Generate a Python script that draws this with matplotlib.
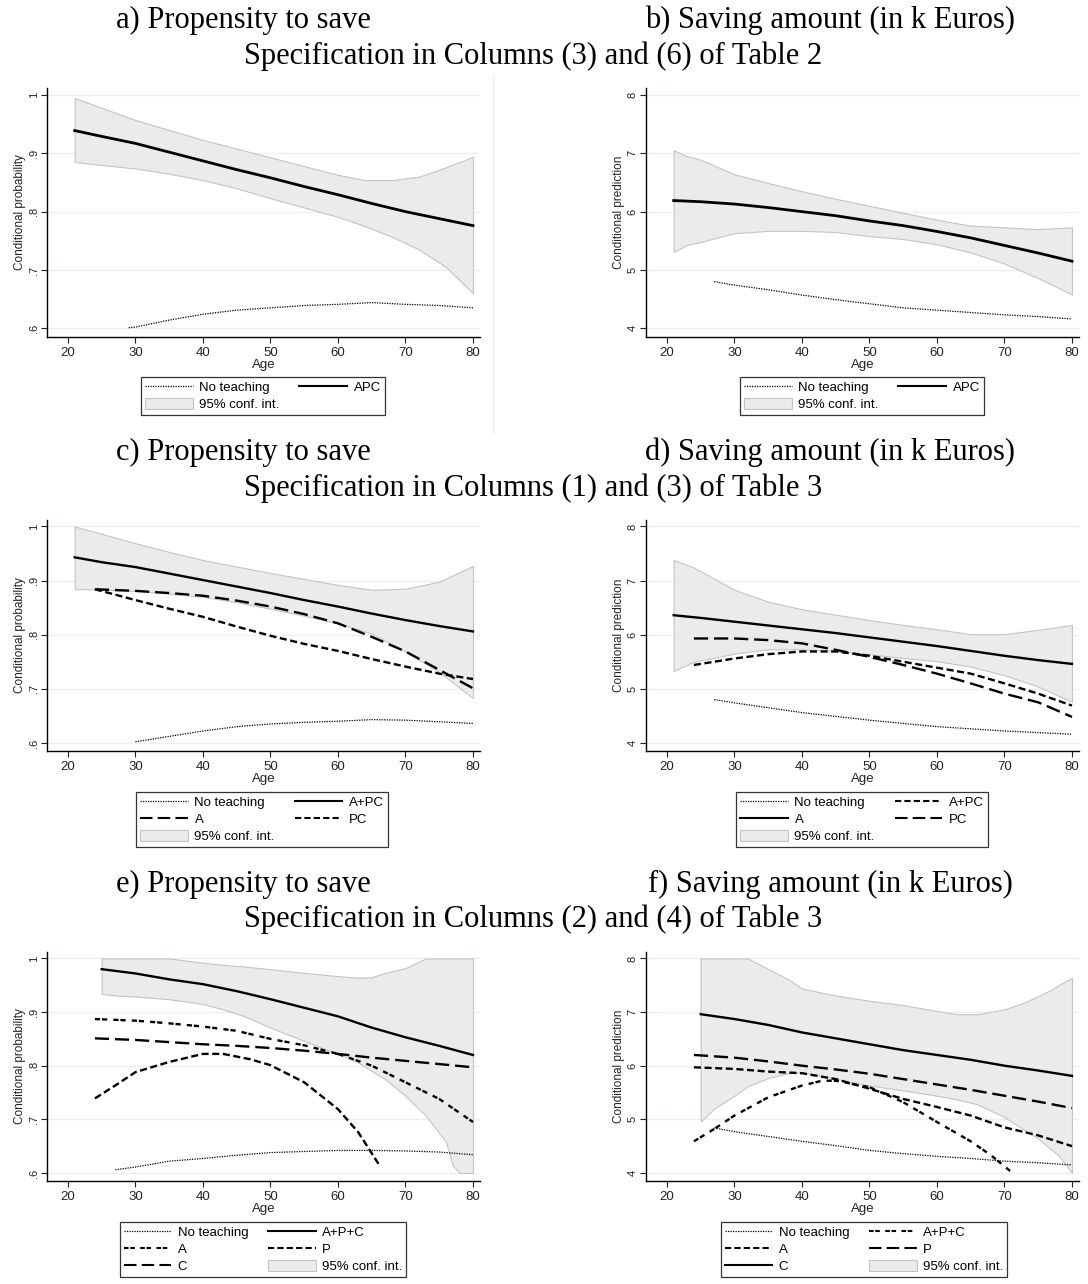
import matplotlib
matplotlib.use("Agg")
import matplotlib.pyplot as plt
from matplotlib.lines import Line2D
from matplotlib.patches import Patch

W, H = 1088, 1284

# ---------------- data ----------------
# panel a) propensity, Table 2 col (3)
a_ci_age = [21, 25, 30, 35, 40, 45, 50, 55, 60, 64, 68, 72, 76, 80]
a_ci_hi = [0.995, 0.978, 0.957, 0.940, 0.923, 0.908, 0.893, 0.878, 0.863, 0.854, 0.854, 0.860, 0.876, 0.894]
a_ci_lo = [0.885, 0.880, 0.874, 0.865, 0.854, 0.840, 0.823, 0.807, 0.791, 0.775, 0.757, 0.735, 0.705, 0.660]
a_age = [21, 25, 30, 35, 40, 45, 50, 55, 60, 65, 70, 75, 80]
a_apc = [0.939, 0.929, 0.917, 0.902, 0.887, 0.872, 0.858, 0.843, 0.829, 0.814, 0.800, 0.788, 0.776]
a_nt_age = [29, 30, 35, 40, 45, 50, 55, 60, 65, 70, 75, 80]
a_nt = [0.601, 0.602, 0.614, 0.624, 0.631, 0.635, 0.639, 0.641, 0.644, 0.641, 0.639, 0.635]

# panel b) saving amount, Table 2 col (6)
b_ci_age = [21, 23, 25, 30, 35, 40, 45, 50, 55, 60, 65, 70, 75, 80]
b_ci_hi = [7.05, 6.95, 6.89, 6.64, 6.49, 6.35, 6.22, 6.10, 5.98, 5.86, 5.76, 5.73, 5.70, 5.73]
b_ci_lo = [5.31, 5.43, 5.48, 5.63, 5.67, 5.67, 5.65, 5.58, 5.53, 5.44, 5.30, 5.11, 4.86, 4.58]
b_age = [21, 25, 30, 35, 40, 45, 50, 55, 60, 65, 70, 75, 80]
b_apc = [6.19, 6.17, 6.13, 6.07, 6.00, 5.93, 5.84, 5.76, 5.66, 5.55, 5.42, 5.29, 5.15]
b_nt_age = [27, 30, 35, 40, 45, 50, 55, 60, 65, 70, 75, 80]
b_nt = [4.80, 4.74, 4.66, 4.57, 4.49, 4.42, 4.35, 4.31, 4.27, 4.23, 4.20, 4.16]

# panel c) propensity, Table 3 col (1)
c_ci_age = [21, 24, 30, 35, 40, 45, 50, 55, 60, 65, 70, 75, 80]
c_ci_hi = [1.0, 0.990, 0.969, 0.953, 0.938, 0.926, 0.914, 0.903, 0.892, 0.883, 0.885, 0.898, 0.927]
c_ci_lo = [0.884, 0.884, 0.881, 0.876, 0.870, 0.860, 0.848, 0.835, 0.821, 0.802, 0.769, 0.731, 0.683]
c_age = [21, 25, 30, 35, 40, 45, 50, 55, 60, 65, 70, 75, 80]
c_apc = [0.943, 0.934, 0.925, 0.913, 0.901, 0.889, 0.877, 0.864, 0.852, 0.839, 0.827, 0.816, 0.806]
c_sub_age = [24, 30, 35, 40, 45, 50, 55, 60, 65, 70, 75, 80]
c_a = [0.884, 0.881, 0.877, 0.872, 0.863, 0.852, 0.838, 0.821, 0.796, 0.769, 0.735, 0.701]
c_pc = [0.884, 0.864, 0.848, 0.833, 0.815, 0.798, 0.783, 0.770, 0.755, 0.741, 0.728, 0.718]
c_nt_age = [30, 35, 40, 45, 50, 55, 60, 65, 70, 75, 80]
c_nt = [0.602, 0.612, 0.622, 0.630, 0.635, 0.638, 0.640, 0.643, 0.642, 0.639, 0.636]

# panel d) saving amount, Table 3 col (3)
d_ci_age = [21, 24, 30, 35, 40, 45, 50, 55, 60, 65, 70, 75, 80]
d_ci_hi = [7.38, 7.24, 6.83, 6.61, 6.47, 6.37, 6.27, 6.18, 6.10, 6.01, 6.01, 6.09, 6.18]
d_ci_lo = [5.33, 5.50, 5.65, 5.73, 5.73, 5.70, 5.64, 5.57, 5.51, 5.41, 5.25, 5.04, 4.76]
d_age = [21, 25, 30, 35, 40, 45, 50, 55, 60, 65, 70, 75, 80]
d_a = [6.36, 6.31, 6.24, 6.17, 6.10, 6.03, 5.95, 5.87, 5.79, 5.70, 5.61, 5.53, 5.46]
d_sub_age = [24, 30, 35, 40, 45, 50, 55, 60, 65, 70, 75, 80]
d_apc = [5.44, 5.56, 5.64, 5.69, 5.69, 5.61, 5.50, 5.39, 5.28, 5.10, 4.91, 4.69]
d_pc = [5.93, 5.93, 5.90, 5.84, 5.72, 5.59, 5.44, 5.28, 5.10, 4.91, 4.75, 4.48]
d_nt_age = [27, 30, 35, 40, 45, 50, 55, 60, 65, 70, 75, 80]
d_nt = [4.80, 4.74, 4.65, 4.56, 4.49, 4.42, 4.36, 4.30, 4.26, 4.22, 4.19, 4.16]

# panel e) propensity, Table 3 col (2)
e_ci_age = [25, 27, 30, 35, 40, 43, 46, 50, 55, 60, 63, 65, 67, 70, 73, 76, 77, 78, 80]
e_ci_hi = [1.0, 1.0, 1.0, 1.0, 0.992, 0.988, 0.985, 0.980, 0.973, 0.967, 0.964, 0.965, 0.973, 0.982,
           1.0, 1.0, 1.0, 1.0, 1.0]
e_ci_lo = [0.934, 0.931, 0.929, 0.924, 0.915, 0.905, 0.893, 0.871, 0.846, 0.822, 0.806, 0.790, 0.775,
           0.744, 0.707, 0.658, 0.614, 0.600, 0.600]
e_age = [25, 30, 35, 40, 45, 50, 55, 60, 65, 70, 75, 80]
e_apc = [0.980, 0.972, 0.961, 0.952, 0.939, 0.924, 0.908, 0.892, 0.871, 0.853, 0.837, 0.820]
e_sub_age = [24, 30, 35, 40, 45, 50, 55, 60, 65, 70, 75, 80]
e_a = [0.887, 0.884, 0.879, 0.873, 0.865, 0.850, 0.838, 0.822, 0.800, 0.769, 0.738, 0.695]
e_c = [0.851, 0.848, 0.844, 0.840, 0.837, 0.833, 0.828, 0.822, 0.815, 0.809, 0.803, 0.797]
e_p_age = [24, 27, 30, 35, 40, 43, 47, 50, 55, 60, 63, 66]
e_p = [0.739, 0.763, 0.788, 0.807, 0.822, 0.822, 0.812, 0.801, 0.769, 0.719, 0.676, 0.617]
e_nt_age = [27, 30, 35, 40, 45, 50, 55, 60, 65, 70, 75, 80]
e_nt = [0.606, 0.611, 0.622, 0.627, 0.633, 0.638, 0.640, 0.642, 0.642, 0.641, 0.639, 0.634]

# panel f) saving amount, Table 3 col (4)
f_ci_age = [25, 27, 30, 32, 35, 38, 40, 43, 45, 47, 50, 55, 60, 63, 66, 70, 73, 75, 77, 78, 80]
f_ci_hi = [8.0, 8.0, 8.0, 8.0, 7.80, 7.61, 7.44, 7.36, 7.31, 7.27, 7.21, 7.13, 7.02, 6.96, 6.96, 7.05,
           7.18, 7.30, 7.42, 7.50, 7.64]
f_ci_lo = [4.96, 5.20, 5.44, 5.62, 5.77, 5.86, 5.88, 5.81, 5.76, 5.70, 5.63, 5.54, 5.44, 5.37, 5.28,
           5.04, 4.80, 4.64, 4.43, 4.33, 4.00]
f_age = [25, 30, 35, 40, 45, 50, 55, 60, 65, 70, 75, 80]
f_c = [6.96, 6.87, 6.76, 6.62, 6.51, 6.40, 6.29, 6.20, 6.11, 6.00, 5.91, 5.81]
f_sub_age = [24, 30, 35, 40, 45, 50, 55, 60, 65, 70, 75, 80]
f_p = [6.20, 6.15, 6.08, 6.00, 5.93, 5.85, 5.75, 5.65, 5.55, 5.44, 5.33, 5.21]
f_a = [5.97, 5.94, 5.89, 5.86, 5.75, 5.57, 5.38, 5.23, 5.07, 4.85, 4.70, 4.50]
f_apc_age = [24, 27, 30, 35, 40, 43, 45, 50, 55, 60, 65, 68, 71]
f_apc = [4.59, 4.82, 5.07, 5.41, 5.63, 5.72, 5.72, 5.60, 5.32, 4.95, 4.59, 4.33, 4.02]
f_nt_age = [27, 30, 35, 40, 45, 50, 55, 60, 65, 70, 75, 80]
f_nt = [4.84, 4.77, 4.68, 4.59, 4.51, 4.42, 4.36, 4.31, 4.27, 4.22, 4.19, 4.15]

prob_ticks = [0.6, 0.7, 0.8, 0.9, 1.0]
prob_labels = [".6", ".7", ".8", ".9", "1"]
amt_ticks = [4, 5, 6, 7, 8]
amt_labels = ["4", "5", "6", "7", "8"]
age_ticks = [20, 30, 40, 50, 60, 70, 80]

# ---------------- styles ----------------
SOLID = "-"
LONG = (0, (6, 2.5))
SHORT = (0, (3, 1.5))
PAIR = (0, (2.2, 0.8, 2.2, 2.6))
DOT = (0, (1, 1))
CI_FACE = "#ebebeb"
CI_EDGE = "#c4c4c4"
SANS = "Liberation Sans"
SERIF = "Liberation Serif"


def px_rect(x0, y0, x1, y1):
    return [x0 / W, 1 - y1 / H, (x1 - x0) / W, (y1 - y0) / H]


def make_axes(fig, rect, prob):
    ax = fig.add_axes(px_rect(*rect))
    ax.set_xlim(16.9, 81.04)
    if prob:
        ax.set_ylim(0.585, 1.012)
        ax.set_yticks(prob_ticks)
        ax.set_yticklabels(prob_labels)
        ax.set_ylabel("Conditional probability", fontsize=8.5, family=SANS, labelpad=2, color="#222222")
    else:
        ax.set_ylim(3.85, 8.12)
        ax.set_yticks(amt_ticks)
        ax.set_yticklabels(amt_labels)
        ax.set_ylabel("Conditional prediction", fontsize=8.5, family=SANS, labelpad=2, color="#222222")
    ax.set_xticks(age_ticks)
    ax.set_xlabel("Age", fontsize=9.5, family=SANS, labelpad=0, color="#222222")
    for lab in ax.get_yticklabels():
        lab.set_rotation(90)
        lab.set_va("center")
        lab.set_family(SANS)
        lab.set_fontsize(8)
    for lab in ax.get_xticklabels():
        lab.set_family(SANS)
        lab.set_fontsize(9.5)
    ax.tick_params(colors="#222222", length=4, width=0.8)
    ax.tick_params(axis="x", pad=3)
    ax.tick_params(axis="y", pad=2)
    for s in ["top", "right"]:
        ax.spines[s].set_visible(False)
    for s in ["left", "bottom"]:
        ax.spines[s].set_linewidth(1.0)
    ax.grid(axis="y", color="#e8f0f1", lw=1)
    ax.set_axisbelow(True)
    return ax


def ci(ax, x, lo, hi):
    ax.fill_between(x, lo, hi, facecolor=CI_FACE, edgecolor=CI_EDGE, lw=0.8, zorder=1)


def line(ax, x, y, ls, lw=1.7):
    ax.plot(x, y, color="black", ls=ls, lw=lw, zorder=3)


def legend(ax, items, cx, top_px):
    handles, labels = [], []
    for lab, style in items:
        if style == "ci":
            handles.append(Patch(facecolor=CI_FACE, edgecolor=CI_EDGE, lw=0.8))
        elif style == DOT:
            handles.append(Line2D([], [], color="black", ls=DOT, lw=0.9))
        else:
            handles.append(Line2D([], [], color="black", ls=style, lw=1.5))
        labels.append(lab)
    leg = ax.legend(handles, labels, ncol=2, loc="upper center",
                    bbox_to_anchor=(cx / W, 1 - top_px / H), bbox_transform=ax.figure.transFigure,
                    prop={"family": SANS, "size": 9.5}, frameon=True, fancybox=False,
                    handlelength=3.6, handleheight=0.9, handletextpad=0.5, columnspacing=1.5,
                    labelspacing=0.3, borderpad=0.3, borderaxespad=0)
    leg.get_frame().set_edgecolor("black")
    leg.get_frame().set_linewidth(0.9)


fig = plt.figure(figsize=(W / 100, H / 100), dpi=100)

# titles
titles = [
    (243, 20, "a) Propensity to save"), (830, 20, "b) Saving amount (in k Euros)"),
    (533, 56, "Specification in Columns (3) and (6) of Table 2"),
    (243, 452, "c) Propensity to save"), (830, 452, "d) Saving amount (in k Euros)"),
    (533, 488, "Specification in Columns (1) and (3) of Table 3"),
    (243, 884, "e) Propensity to save"), (830, 884, "f) Saving amount (in k Euros)"),
    (533, 919, "Specification in Columns (2) and (4) of Table 3"),
]
for x, y, t in titles:
    fig.text(x / W, 1 - y / H, t, ha="center", va="center", family=SERIF, fontsize=22)

# faint separator between the two top graphs
fig.add_artist(Line2D([493 / W, 493 / W], [1 - 75 / H, 1 - 433 / H], color="#eeeeee", lw=1))

# ---- a ----
ax = make_axes(fig, (47, 88, 480, 337), True)
ci(ax, a_ci_age, a_ci_lo, a_ci_hi)
line(ax, a_age, a_apc, SOLID, 2.0)
line(ax, a_nt_age, a_nt, DOT, 0.9)
legend(ax, [("No teaching", DOT), ("95% conf. int.", "ci"), ("APC", SOLID)], 263, 377)

# ---- b ----
ax = make_axes(fig, (646, 88, 1079, 337), False)
ci(ax, b_ci_age, b_ci_lo, b_ci_hi)
line(ax, b_age, b_apc, SOLID, 2.0)
line(ax, b_nt_age, b_nt, DOT, 0.9)
legend(ax, [("No teaching", DOT), ("95% conf. int.", "ci"), ("APC", SOLID)], 862, 377)

# ---- c ----
ax = make_axes(fig, (47, 520, 480, 751), True)
ci(ax, c_ci_age, c_ci_lo, c_ci_hi)
line(ax, c_age, c_apc, SOLID)
line(ax, c_sub_age, c_a, LONG)
line(ax, c_sub_age, c_pc, SHORT)
line(ax, c_nt_age, c_nt, DOT, 0.9)
legend(ax, [("No teaching", DOT), ("A", LONG), ("95% conf. int.", "ci"),
            ("A+PC", SOLID), ("PC", SHORT)], 262, 792)

# ---- d ----
ax = make_axes(fig, (646, 520, 1079, 751), False)
ci(ax, d_ci_age, d_ci_lo, d_ci_hi)
line(ax, d_age, d_a, SOLID)
line(ax, d_sub_age, d_apc, SHORT)
line(ax, d_sub_age, d_pc, LONG)
line(ax, d_nt_age, d_nt, DOT, 0.9)
legend(ax, [("No teaching", DOT), ("A", SOLID), ("95% conf. int.", "ci"),
            ("A+PC", SHORT), ("PC", LONG)], 862, 792)

# ---- e ----
ax = make_axes(fig, (47, 952, 480, 1181), True)
ci(ax, e_ci_age, e_ci_lo, e_ci_hi)
line(ax, e_age, e_apc, SOLID)
line(ax, e_sub_age, e_a, PAIR)
line(ax, e_sub_age, e_c, LONG)
line(ax, e_p_age, e_p, SHORT)
line(ax, e_nt_age, e_nt, DOT, 0.9)
legend(ax, [("No teaching", DOT), ("A", PAIR), ("C", LONG),
            ("A+P+C", SOLID), ("P", SHORT), ("95% conf. int.", "ci")], 263, 1222)

# ---- f ----
ax = make_axes(fig, (646, 952, 1079, 1181), False)
ci(ax, f_ci_age, f_ci_lo, f_ci_hi)
line(ax, f_age, f_c, SOLID)
line(ax, f_sub_age, f_p, LONG)
line(ax, f_sub_age, f_a, SHORT)
line(ax, f_apc_age, f_apc, PAIR)
line(ax, f_nt_age, f_nt, DOT, 0.9)
legend(ax, [("No teaching", DOT), ("A", SHORT), ("C", SOLID),
            ("A+P+C", PAIR), ("P", LONG), ("95% conf. int.", "ci")], 864, 1222)

fig.savefig("out.png", dpi=100, facecolor="white")
